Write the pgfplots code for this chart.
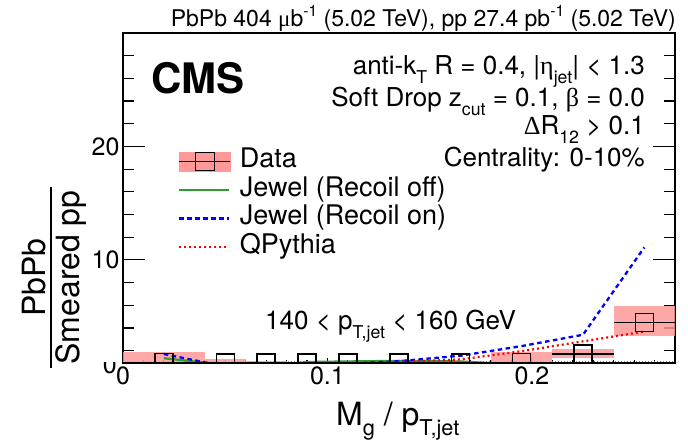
\documentclass[border=0pt]{standalone}
\usepackage{pgfplots}
\pgfplotsset{compat=1.18}
\usepackage{fontspec}
\setmainfont{TeX Gyre Heros}
\newfontfamily\greek{Liberation Serif}

\definecolor{syspink}{RGB}{255,153,153}
\definecolor{jewelgreen}{RGB}{50,155,50}

% ROOT-style sub/superscripts
\newcommand\sbs[1]{\raisebox{-0.33em}{\scalebox{0.68}{#1}}}
\newcommand\sps[1]{\raisebox{0.45em}{\scalebox{0.68}{#1}}}
\newcommand\fs[1]{\fontsize{#1}{#1}\selectfont}

% measured ratio: bin centre, value, half bin width
\pgfplotstableread{
xc     y     ex
0.020  0.93  0.020
0.050  0.92  0.010
0.070  0.92  0.010
0.090  0.92  0.010
0.110  0.92  0.010
0.135  0.92  0.015
0.165  0.92  0.015
0.195  0.95  0.015
0.225  1.70  0.015
0.255  4.45  0.015
}\datatable

\begin{document}
\begin{tikzpicture}
\useasboundingbox (0,0) rectangle (688pt,-443pt);
\begin{axis}[
  at={(123pt,-363pt)}, anchor=south west,
  scale only axis, width=552pt, height=330pt,
  xmin=0, xmax=0.27, ymin=0.91, ymax=30,
  axis line style={line width=1.6pt},
  xtick={0,0.1,0.2}, xticklabels={0,0.1,0.2},
  minor xtick={0.01,0.02,...,0.265},
  ytick={10,20},
  minor ytick={2,4,6,8,12,14,16,18,22,24,26,28},
  tick align=inside,
  xtick pos=bottom,
  major tick length=22pt, minor tick length=11pt,
  xtick style={/pgfplots/major tick length=5pt, /pgfplots/minor tick length=3pt},
  tick style={line width=1.2pt, black},
  tick label style={font=\fs{25}},
  /pgf/number format/assume math mode=true,
  clip marker paths=true,
  legend style={at={(axis description cs:0.0996,0.65)}, anchor=north west,
    draw=none, fill=none, inner sep=0pt, row sep=3pt,
    font=\fs{27},
    nodes={inner sep=0pt, text height=19pt, text depth=6.5pt},
    /tikz/every odd column/.append style={column sep=9pt}},
  legend cell align=left,
  legend image code/.code={\draw[#1] (0pt,0pt) -- (50pt,0pt);},
]
% legend sample for the measurement
\addlegendimage{legend image code/.code={
  \fill[syspink] (0pt,-9.5pt) rectangle (51pt,9.5pt);
  \draw[black, line width=1.3pt] (0pt,0pt) -- (51pt,0pt);
  \draw[black, line width=1.3pt] (16pt,-9pt) rectangle (35pt,9pt);}}
\addlegendentry{Data}

% reference line at unity
\addplot[gray, dotted, line width=1pt, forget plot] coordinates {(0,1) (0.27,1)};

% systematic uncertainty boxes
\addplot[fill=syspink, draw=none, opacity=0.85, forget plot] coordinates {(0,0) (0.04,0) (0.04,1.90) (0,1.90)} -- cycle;
\addplot[fill=syspink, draw=none, opacity=0.85, forget plot] coordinates {(0.04,0.4) (0.06,0.4) (0.06,1.23) (0.04,1.23)} -- cycle;
\addplot[fill=syspink, draw=none, opacity=0.85, forget plot] coordinates {(0.06,0.6) (0.08,0.6) (0.08,1.06) (0.06,1.06)} -- cycle;
\addplot[fill=syspink, draw=none, opacity=0.85, forget plot] coordinates {(0.08,0.6) (0.10,0.6) (0.10,1.00) (0.08,1.00)} -- cycle;
\addplot[fill=syspink, draw=none, opacity=0.85, forget plot] coordinates {(0.10,0.6) (0.12,0.6) (0.12,1.00) (0.10,1.00)} -- cycle;
\addplot[fill=syspink, draw=none, opacity=0.85, forget plot] coordinates {(0.12,0.6) (0.15,0.6) (0.15,1.00) (0.12,1.00)} -- cycle;
\addplot[fill=syspink, draw=none, opacity=0.85, forget plot] coordinates {(0.15,0.6) (0.18,0.6) (0.18,0.96) (0.15,0.96)} -- cycle;
\addplot[fill=syspink, draw=none, opacity=0.85, forget plot] coordinates {(0.18,0.0) (0.21,0.0) (0.21,1.92) (0.18,1.92)} -- cycle;
\addplot[fill=syspink, draw=none, opacity=0.85, forget plot] coordinates {(0.21,1.32) (0.24,1.32) (0.24,2.14) (0.21,2.14)} -- cycle;
\addplot[fill=syspink, draw=none, opacity=0.85, forget plot] coordinates {(0.24,3.30) (0.27,3.30) (0.27,5.90) (0.24,5.90)} -- cycle;

% Jewel, recoil off
\addplot[jewelgreen, line width=2.2pt] coordinates {
  (0.020,1.33) (0.050,0.75) (0.070,0.60) (0.090,1.00) (0.110,1.05)
  (0.135,1.10) (0.165,1.05) (0.195,0.75)};
\addlegendentry{Jewel (Recoil off)}
% Jewel, recoil on
\addplot[blue, line width=2.3pt, dash pattern=on 4.5pt off 3.5pt] coordinates {
  (0.020,1.70) (0.050,0.60) (0.070,0.50) (0.090,0.60) (0.110,0.85)
  (0.135,1.07) (0.165,1.55) (0.195,2.40) (0.225,3.40) (0.255,11.10)};
\addlegendentry{Jewel (Recoil on)}
% QPythia
\addplot[red, line width=2.2pt, dash pattern=on 2pt off 3pt] coordinates {
  (0.110,0.85) (0.135,1.00) (0.165,1.22) (0.195,1.95) (0.225,2.82) (0.255,3.68)};
\addlegendentry{QPythia}

% measured ratio
\addplot[only marks, mark=square, mark size=9pt, black, line width=1.3pt,
  error bars/.cd, x dir=both, x explicit,
  error bar style={line width=1.3pt, black}, error mark=none]
  table[x=xc, y=y, x error=ex] {\datatable};
\end{axis}

% y tick label at the bottom edge, partly hidden under the frame
\begin{scope}
  \clip (95pt,-363pt) rectangle (121pt,-385pt);
  \node[anchor=east, inner sep=0pt, font=\fs{25}] at (117pt,-364.5pt) {0};
\end{scope}

% axis titles
\node[anchor=base west, inner sep=0pt, font=\fs{32}] at (336pt,-425pt)
  {M\sbs{g} / p\sbs{T,jet}};
\draw[line width=1.6pt] (50.7pt,-187pt) -- (50.7pt,-368pt);
\node[rotate=90, anchor=base, inner sep=0pt, font=\fs{32}] at (45pt,-277.5pt) {PbPb};
\node[rotate=90, anchor=north, inner sep=0pt, font=\fs{32}] at (55pt,-277.5pt) {Smeared pp};

% header and labels
\node[anchor=base east, inner sep=0pt, font=\fs{23}] at (676pt,-27pt)
  {PbPb 404 {\greek μ}b\sps{-1} (5.02 TeV), pp 27.4 pb\sps{-1} (5.02 TeV)};
\node[anchor=base west, inner sep=0pt, font=\fs{42}\bfseries] at (151pt,-94pt) {CMS};
\node[anchor=base east, inner sep=0pt, font=\fs{26}] at (645pt,-75pt)
  {anti-k\sbs{T} R = 0.4, |{\greek η}\sbs{jet}| < 1.3};
\node[anchor=base east, inner sep=0pt, font=\fs{26}] at (645pt,-107pt)
  {Soft Drop z\sbs{cut} = 0.1, {\greek β} = 0.0};
\node[anchor=base east, inner sep=0pt, font=\fs{26}] at (645pt,-135pt)
  {{\greek Δ}R\sbs{12} > 0.1};
\node[anchor=base east, inner sep=0pt, font=\fs{26}] at (645pt,-167pt)
  {Centrality: 0-10\%};
\node[anchor=base west, inner sep=0pt, font=\fs{26}] at (265pt,-330pt)
  {140 < p\sbs{T,jet} < 160 GeV};
\end{tikzpicture}
\end{document}
